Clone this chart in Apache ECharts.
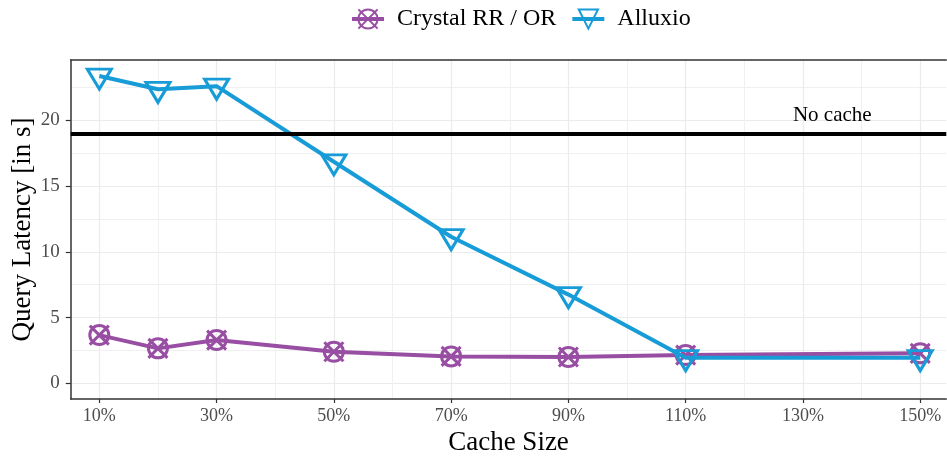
<!DOCTYPE html>
<html><head><meta charset="utf-8">
<script src="https://cdn.jsdelivr.net/npm/echarts@6/dist/echarts.min.js"></script>
<style>html,body{margin:0;padding:0;background:#fff}#c{width:947px;height:457px}</style>
</head><body><div id="c"></div>
<script>
const cacheSizes = [10, 20, 30, 50, 70, 90, 110, 150];
const crystal = [3.67, 2.66, 3.29, 2.4, 2.05, 2.0, 2.15, 2.28];
const alluxio = [23.37, 22.36, 22.6, 16.85, 11.15, 6.75, 1.95, 1.95];
const noCache = 19;
const noCacheLabel = { x: 135, y: 20.35, text: 'No cache' };
const xMajorTicks = [10, 30, 50, 70, 90, 110, 130, 150];
const xMinorTicks = [20, 40, 60, 80, 100, 120, 140];
const yMajorTicks = [0, 5, 10, 15, 20];
const yMinorTicks = [2.5, 7.5, 12.5, 17.5, 22.5];
const seriesNames = ['Crystal RR / OR', 'Alluxio'];

const FONT = '"Liberation Serif", "DejaVu Serif", serif';
const PURPLE = '#984EA3';
const BLUE = '#179CD7';
const XMIN = 5.12, XMAX = 154.45, YMIN = -1.19, YMAX = 24.59;

const crossCircle = 'path://M0,0 L14,14 M14,0 L0,14 M14,7 A7,7 0 1,1 0,7 A7,7 0 1,1 14,7 Z';
const downTri = 'path://M0,0 L22,0 L11,18 Z';

const chart = echarts.init(document.getElementById('c'), null, { renderer: 'canvas' });
const pairs = (ys) => cacheSizes.map((x, i) => [x, ys[i]]);

chart.setOption({
  animation: false,
  backgroundColor: '#fff',
  textStyle: { fontFamily: FONT },
  legend: {
    top: 2, left: 345,
    itemWidth: 32, itemHeight: 24, itemGap: 14,
    lineStyle: { width: 4 },
    textStyle: { fontFamily: FONT, fontSize: 24, color: '#000', padding: [0, 0, 0, 8] },
    data: seriesNames
  },
  grid: { left: 70.7, right: 0.7, top: 60, bottom: 58, containLabel: false, outerBoundsMode: 'none' },
  xAxis: [{
    type: 'value', min: XMIN, max: XMAX, position: 'bottom',
    name: 'Cache Size', nameLocation: 'middle', nameGap: 19,
    nameTextStyle: { fontFamily: FONT, fontSize: 27, color: '#000' },
    axisLine: { show: true, onZero: false, lineStyle: { color: '#333', width: 1.5 } },
    axisTick: { show: true, length: 4, customValues: xMajorTicks, lineStyle: { color: '#333', width: 1.2 } },
    axisLabel: { customValues: xMajorTicks, formatter: v => v + '%', fontFamily: FONT, fontSize: 18, color: '#4d4d4d', margin: 8 },
    splitLine: { show: true, lineStyle: { color: '#ebebeb', width: 1.2 } }
  }, {
    type: 'value', min: XMIN, max: XMAX, position: 'top',
    axisLine: { show: true, onZero: false, lineStyle: { color: '#333', width: 1.5 } },
    axisTick: { show: false, customValues: xMinorTicks },
    axisLabel: { show: false, customValues: xMinorTicks },
    splitLine: { show: true, lineStyle: { color: '#f0f0f0', width: 1 } }
  }],
  yAxis: [{
    type: 'value', min: YMIN, max: YMAX, position: 'left',
    name: 'Query Latency [in s]', nameLocation: 'middle', nameGap: 34, nameMoveOverlap: false,
    nameTextStyle: { fontFamily: FONT, fontSize: 27, color: '#000' },
    axisLine: { show: true, onZero: false, lineStyle: { color: '#333', width: 1.5 } },
    axisTick: { show: true, length: 5, customValues: yMajorTicks, lineStyle: { color: '#333', width: 1.2 } },
    axisLabel: { customValues: yMajorTicks, fontFamily: FONT, fontSize: 19, color: '#4d4d4d', margin: 11 },
    splitLine: { show: true, lineStyle: { color: '#ebebeb', width: 1.2 } }
  }, {
    type: 'value', min: YMIN, max: YMAX, position: 'right',
    axisLine: { show: false },
    axisTick: { show: false, customValues: yMinorTicks },
    axisLabel: { show: false, customValues: yMinorTicks },
    splitLine: { show: true, lineStyle: { color: '#f0f0f0', width: 1 } }
  }],
  series: [{
    name: seriesNames[0], type: 'line', data: pairs(crystal),
    symbol: crossCircle, symbolSize: 19, showAllSymbol: true,
    lineStyle: { color: PURPLE, width: 4 },
    itemStyle: { color: 'rgba(0,0,0,0)', borderColor: PURPLE, borderWidth: 3 },
    emphasis: { disabled: true }, z: 3,
    markLine: {
      silent: true, symbol: ['none', 'none'], animation: false,
      label: { show: false },
      lineStyle: { color: '#000', width: 4, type: 'solid' },
      data: [{ yAxis: noCache }]
    },
    markPoint: {
      silent: true, symbol: 'circle', symbolSize: 0,
      label: { show: true, position: 'inside', formatter: noCacheLabel.text, fontFamily: FONT, fontSize: 21, color: '#000' },
      data: [{ coord: [noCacheLabel.x, noCacheLabel.y] }]
    }
  }, {
    name: seriesNames[1], type: 'line', data: pairs(alluxio),
    symbol: downTri, symbolSize: [24, 20], symbolOffset: [0, 3], showAllSymbol: true,
    lineStyle: { color: BLUE, width: 4 },
    itemStyle: { color: 'rgba(0,0,0,0)', borderColor: BLUE, borderWidth: 3 },
    emphasis: { disabled: true }, z: 4
  }]
});
</script>
</body></html>
